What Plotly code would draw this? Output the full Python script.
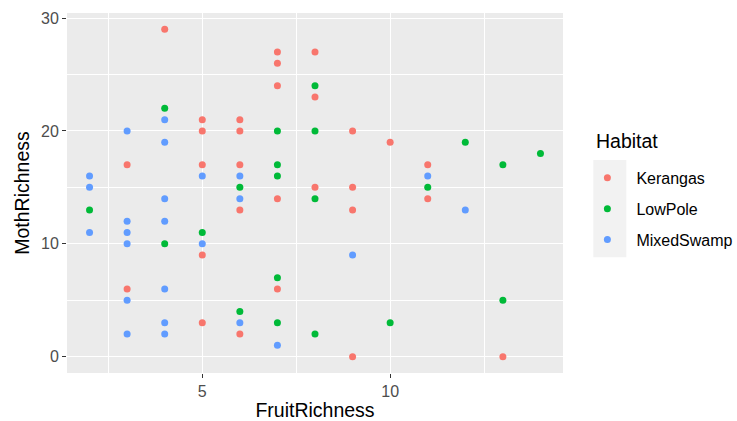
import plotly.graph_objects as go

# Fruit richness vs moth richness, by habitat
kerangas_x = [4, 5, 6, 5, 6, 3, 5, 6, 7, 8, 7, 7, 8, 9, 10, 8, 9, 11, 6, 5, 3, 5, 6, 7, 9, 7, 9, 11, 13]
kerangas_y = [29, 21, 21, 20, 20, 17, 17, 17, 27, 27, 26, 24, 23, 20, 19, 15, 15, 17, 13, 9, 6, 3, 2, 14, 13, 6, 0, 14, 0]

lowpole_x = [4, 6, 8, 7, 8, 7, 7, 12, 14, 13, 11, 2, 5, 4, 6, 8, 7, 7, 10, 8, 13]
lowpole_y = [22, 15, 24, 20, 20, 17, 16, 19, 18, 17, 15, 13, 11, 10, 4, 14, 7, 3, 3, 2, 5]

mixed_x = [4, 3, 4, 2, 5, 6, 2, 11, 4, 6, 3, 4, 2, 3, 3, 5, 4, 3, 4, 6, 3, 4, 9, 7, 12]
mixed_y = [21, 20, 19, 16, 16, 16, 15, 16, 14, 14, 12, 12, 11, 11, 10, 10, 6, 5, 3, 3, 2, 2, 9, 1, 13]

habitats = ["Kerangas", "LowPole", "MixedSwamp"]
colors = ["#F8766D", "#00BA38", "#619CFF"]
series = [(kerangas_x, kerangas_y), (lowpole_x, lowpole_y), (mixed_x, mixed_y)]

x_ticks = [5, 10]
y_ticks = [0, 10, 20, 30]

FONT = "Liberation Sans, Arial, sans-serif"

fig = go.Figure()
for name, col, (xs, ys) in zip(habitats, colors, series):
    fig.add_trace(go.Scatter(
        x=xs, y=ys, mode="markers", name=name, legendgroup=name,
        marker=dict(color=col, size=7, line=dict(width=0)),
    ))

axis_common = dict(
    showgrid=True, gridcolor="white", gridwidth=1.1,
    zeroline=False, showline=False, automargin=False,
    ticks="outside", ticklen=4, tickwidth=1.1, tickcolor="#333333",
    tickfont=dict(family=FONT, size=16, color="#4D4D4D"),
)

fig.update_layout(
    width=737, height=421,
    margin=dict(l=67, r=174, t=13, b=48, autoexpand=False),
    paper_bgcolor="white", plot_bgcolor="#EBEBEB",
    font=dict(family=FONT, color="black"),
    xaxis=dict(
        range=[1.4, 14.6], tickvals=x_ticks,
        minor=dict(tickvals=[2.5, 7.5, 12.5], showgrid=True, gridcolor="white", gridwidth=0.55, ticklen=0),
        title=dict(text="FruitRichness", font=dict(family=FONT, size=19.5, color="black"), standoff=9),
        **axis_common,
    ),
    yaxis=dict(
        range=[-1.45, 30.45], tickvals=y_ticks,
        minor=dict(tickvals=[5, 15, 25], showgrid=True, gridcolor="white", gridwidth=0.55, ticklen=0),
        title=dict(text="MothRichness", font=dict(family=FONT, size=19.5, color="black"), standoff=6),
        **axis_common,
    ),
    legend=dict(
        font=dict(family=FONT, size=16, color="black"),
        x=1.031, xanchor="left", y=0.589, yanchor="top",
        bgcolor="rgba(0,0,0,0)", tracegroupgap=7, itemwidth=48,
    ),
    annotations=[dict(
        text="Habitat", xref="paper", yref="paper", x=1.062, y=0.644,
        xanchor="left", yanchor="middle", showarrow=False,
        font=dict(family=FONT, size=19.5, color="black"),
    )],
    shapes=[dict(
        type="rect", xref="paper", yref="paper",
        x0=1.0611, x1=1.1277, y0=0.3216, y1=0.5915,
        fillcolor="#F2F2F2", line=dict(width=0), layer="below",
    )],
)

fig.write_html("out.html")
